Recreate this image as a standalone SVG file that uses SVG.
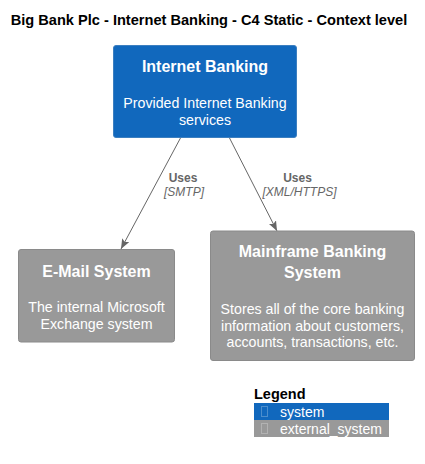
<svg xmlns="http://www.w3.org/2000/svg" width="425" height="464" viewBox="0 0 425 464">
<defs>
<style>
text{font-family:"Liberation Sans",Arial,sans-serif;}
.title{font-size:14.6px;font-weight:bold;fill:#000;}
.ntitle{font-size:16px;font-weight:bold;fill:#fff;text-anchor:middle;}
.ndesc{font-size:14.2px;fill:#fff;text-anchor:middle;}
.sys{fill:#1168BD;stroke:#3C7FC0;stroke-width:1;}
.ext{fill:#999999;stroke:#8A8A8A;stroke-width:1;}
.conn{stroke:#666666;stroke-width:1;fill:none;marker-end:url(#arrow);}
.lbl{font-size:12px;font-weight:bold;fill:#666666;text-anchor:middle;}
.tech{font-size:12px;font-style:italic;fill:#666666;text-anchor:middle;}
.legt{font-size:14.5px;font-weight:bold;fill:#000;}
.legi{font-size:14px;fill:#fff;}
.tofu{fill:none;stroke:#ffffff;stroke-opacity:0.25;stroke-width:1;}
</style>
<marker id="arrow" viewBox="0 0 10 8" refX="10" refY="4" markerWidth="10" markerHeight="8" orient="auto" markerUnits="userSpaceOnUse">
<path d="M0,0 L10,4 L0,8 L2,4 Z" fill="#666666"/>
</marker>
</defs>
<rect width="425" height="464" fill="#ffffff"/>
<text class="title" x="209" y="25" text-anchor="middle">Big Bank Plc - Internet Banking - C4 Static - Context level</text>

<g id="connectors">
<line class="conn" x1="181" y1="137" x2="121" y2="249"/>
<text class="lbl" x="183" y="182">Uses</text>
<text class="tech" x="184" y="196">[SMTP]</text>
<line class="conn" x1="229" y1="137" x2="277" y2="231"/>
<text class="lbl" x="297.5" y="182">Uses</text>
<text class="tech" x="299.5" y="196">[XML/HTTPS]</text>
</g>

<g id="internet_banking">
<rect class="sys" x="113.5" y="45.5" width="183" height="92" rx="2.5"/>
<text class="ntitle" x="205" y="72">Internet Banking</text>
<text class="ndesc" x="205" y="108">Provided Internet Banking</text>
<text class="ndesc" x="205" y="124.5">services</text>
</g>

<g id="email_system">
<rect class="ext" x="18.5" y="249.5" width="156" height="92.5" rx="2.5"/>
<text class="ntitle" x="96.5" y="276.5">E-Mail System</text>
<text class="ndesc" x="96.5" y="312">The internal Microsoft</text>
<text class="ndesc" x="96.5" y="328.5">Exchange system</text>
</g>

<g id="mainframe">
<rect class="ext" x="210.5" y="231" width="204" height="129.5" rx="2.5"/>
<text class="ntitle" x="312.5" y="257">Mainframe Banking</text>
<text class="ntitle" x="312.5" y="277.5">System</text>
<text class="ndesc" x="312.5" y="314">Stores all of the core banking</text>
<text class="ndesc" x="312.5" y="330.5">information about customers,</text>
<text class="ndesc" x="312.5" y="347">accounts, transactions, etc.</text>
</g>

<g id="legend">
<text class="legt" x="254" y="399">Legend</text>
<rect x="254" y="403" width="135" height="17" fill="#1168BD"/>
<rect class="tofu" x="261.5" y="406.5" width="6" height="10"/>
<text class="legi" x="280" y="416.5">system</text>
<rect x="254" y="420" width="135" height="17" fill="#999999"/>
<rect class="tofu" x="261.5" y="423.5" width="6" height="10"/>
<text class="legi" x="280" y="433.5">external_system</text>
</g>
</svg>
